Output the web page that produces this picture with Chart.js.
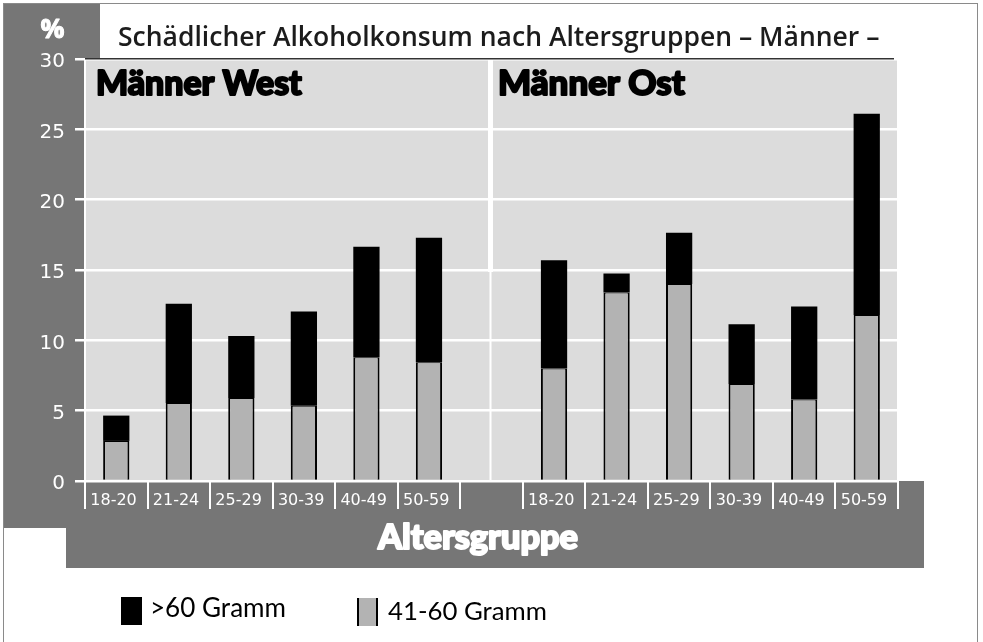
<!DOCTYPE html>
<html><head><meta charset="utf-8">
<script src="https://cdn.jsdelivr.net/npm/chart.js@4.4.0/dist/chart.umd.min.js"></script>
<style>html,body{margin:0;padding:0;background:#fff;overflow:hidden}#wrap{width:983px;height:642px}</style>
</head><body><div id="wrap"><canvas id="c" width="983" height="642"></canvas></div>
<script>
// ---- data ----
const ageGroups = ['18-20', '21-24', '25-29', '30-39', '40-49', '50-59'];
const westModerate = [2.85, 5.55, 5.9, 5.35, 8.8, 8.45];   // 41-60 Gramm
const westHeavy    = [1.8, 7.05, 4.4, 6.7, 7.85, 8.85];    // >60 Gramm
const ostModerate  = [8.0, 13.4, 14.0, 6.9, 5.8, 11.8];    // 41-60 Gramm
const ostHeavy     = [7.7, 1.35, 3.65, 4.25, 6.6, 14.3];   // >60 Gramm
const yTicks = [0, 5, 10, 15, 20, 25, 30];
const chartTitle = 'Schädlicher Alkoholkonsum nach Altersgruppen – Männer –';
const panelWest = 'Männer West';
const panelOst = 'Männer Ost';
const unitLabel = '%';
const xTitle = 'Altersgruppe';
const seriesHeavy = '>60 Gramm';
const seriesModerate = '41-60 Gramm';

// combined category axis (empty slot separates West and Ost)
const labels = [...ageGroups, '', ...ageGroups];
const moderate = [...westModerate, null, ...ostModerate];
const heavy = [...westHeavy, null, ...ostHeavy];

const DARK = '#767676', PLOT = '#dcdcdc', BARGRAY = '#b3b3b3';
const HEAVYFONT = '"Lato", "DejaVu Sans", sans-serif';
const TEXTFONT = '"Open Sans", "DejaVu Sans", sans-serif';
const LEGFONT = 'Lato, "DejaVu Sans", sans-serif';
const TICKFONT = '"DejaVu Sans", sans-serif';

function fitSize(ctx, text, weight, family, width) {
  ctx.font = weight + ' 100px ' + family;
  return 100 * width / ctx.measureText(text).width;
}
function drawFit(ctx, text, weight, family, x, y, width, color, stroke) {
  const sw = stroke || 0;
  const s = fitSize(ctx, text, weight, family, width - sw);
  ctx.font = weight + ' ' + s.toFixed(2) + 'px ' + family;
  ctx.fillStyle = color;
  ctx.textAlign = 'left';
  ctx.textBaseline = 'alphabetic';
  ctx.fillText(text, x + sw / 2, y);
  if (sw) {
    ctx.strokeStyle = color;
    ctx.lineWidth = sw;
    ctx.lineJoin = 'round';
    ctx.strokeText(text, x + sw / 2, y);
  }
}

const decor = {
  id: 'decor',
  beforeDraw(chart) {
    const ctx = chart.ctx, a = chart.chartArea;
    ctx.save();
    ctx.fillStyle = '#fff';
    ctx.fillRect(0, 0, chart.width, chart.height);
    // dark side panel and bottom band
    ctx.fillStyle = DARK;
    ctx.fillRect(4, 4, 96, a.top - 4);
    ctx.fillRect(4, 4, a.left - 4, 524);
    ctx.fillRect(66, a.bottom, 924 - 66, 568 - a.bottom);
    // plot background
    ctx.fillStyle = PLOT;
    ctx.fillRect(a.left, a.top, a.right - a.left - 1, a.bottom - a.top);
    // outer frame
    ctx.strokeStyle = '#8a8a8a';
    ctx.lineWidth = 1;
    ctx.strokeRect(3.5, 3.5, 974, 700);
    ctx.restore();
  },
  beforeDatasetsDraw(chart) {
    const ctx = chart.ctx, a = chart.chartArea;
    const x = chart.scales.x.getPixelForValue(6) - 1;
    const y15 = chart.scales.y.getPixelForValue(15);
    ctx.save();
    ctx.fillStyle = '#fff';
    ctx.fillRect(x - 2.5, a.top, 5, y15 - a.top + 2);
    ctx.fillRect(x - 1, y15, 2, a.bottom - y15);
    ctx.restore();
  },
  afterDraw(chart) {
    const ctx = chart.ctx, a = chart.chartArea;
    ctx.save();
    // title underline
    ctx.fillStyle = '#333';
    ctx.fillRect(a.left, a.top - 1, 894 - a.left, 1.5);
    drawFit(ctx, chartTitle, '600', TEXTFONT, 118, 46, 762, '#1c1c1c');
    drawFit(ctx, unitLabel, '700', TEXTFONT, 40, 38, 25, '#fff', 1);
    drawFit(ctx, panelWest, '900', HEAVYFONT, 95, 95, 208, '#000', 2);
    drawFit(ctx, panelOst, '900', HEAVYFONT, 497, 95, 189, '#000', 2);
    drawFit(ctx, xTitle, '900', HEAVYFONT, 377, 549, 202, '#fff', 2);
    // legend
    ctx.fillStyle = '#000';
    ctx.fillRect(121, 597, 21, 28);
    drawFit(ctx, seriesHeavy, '400', LEGFONT, 150, 617, 136, '#000');
    ctx.fillStyle = BARGRAY;
    ctx.fillRect(357, 598, 21, 28);
    ctx.fillStyle = '#000';
    ctx.fillRect(357, 598, 2, 28);
    ctx.fillRect(376, 598, 2, 28);
    drawFit(ctx, seriesModerate, '400', LEGFONT, 388, 620, 159, '#000');
    ctx.restore();
  }
};

new Chart(document.getElementById('c'), {
  type: 'bar',
  data: {
    labels: labels,
    datasets: [
      { label: seriesModerate, data: moderate, backgroundColor: BARGRAY, borderColor: '#000',
        borderWidth: { left: 2, right: 2, top: 1, bottom: 0 }, borderSkipped: false },
      { label: seriesHeavy, data: heavy, backgroundColor: '#000', borderWidth: 0 }
    ]
  },
  options: {
    responsive: false,
    animation: false,
    devicePixelRatio: 1,
    barPercentage: 0.42,
    categoryPercentage: 1,
    layout: { padding: { left: 0, top: 59, right: 85, bottom: 0 } },
    plugins: { legend: { display: false }, title: { display: false }, tooltip: { enabled: false } },
    scales: {
      x: {
        stacked: true,
        offset: true,
        grid: { display: true, offset: true, drawOnChartArea: false, drawTicks: true, tickLength: 28, color: '#fff', lineWidth: 2 },
        border: { display: true, color: '#fff', width: 2 },
        ticks: { color: '#fff', font: { family: TICKFONT, size: 16 }, align: 'start', labelOffset: -26, padding: -18, maxRotation: 0, autoSkip: false },
        afterFit(s) { s.height = 161; }
      },
      y: {
        stacked: true,
        min: 0, max: 30,
        afterBuildTicks(s) { s.ticks = yTicks.map(v => ({ value: v })); },
        ticks: { color: '#fff', font: { family: TICKFONT, size: 20 }, padding: 10, labelOffset: 3 },
        grid: { color: '#fff', lineWidth: 2.5, tickLength: 10, drawTicks: true },
        border: { display: true, color: '#fff', width: 2 },
        afterFit(s) { s.width = 85; }
      }
    }
  },
  plugins: [decor]
});
</script>
</body></html>
